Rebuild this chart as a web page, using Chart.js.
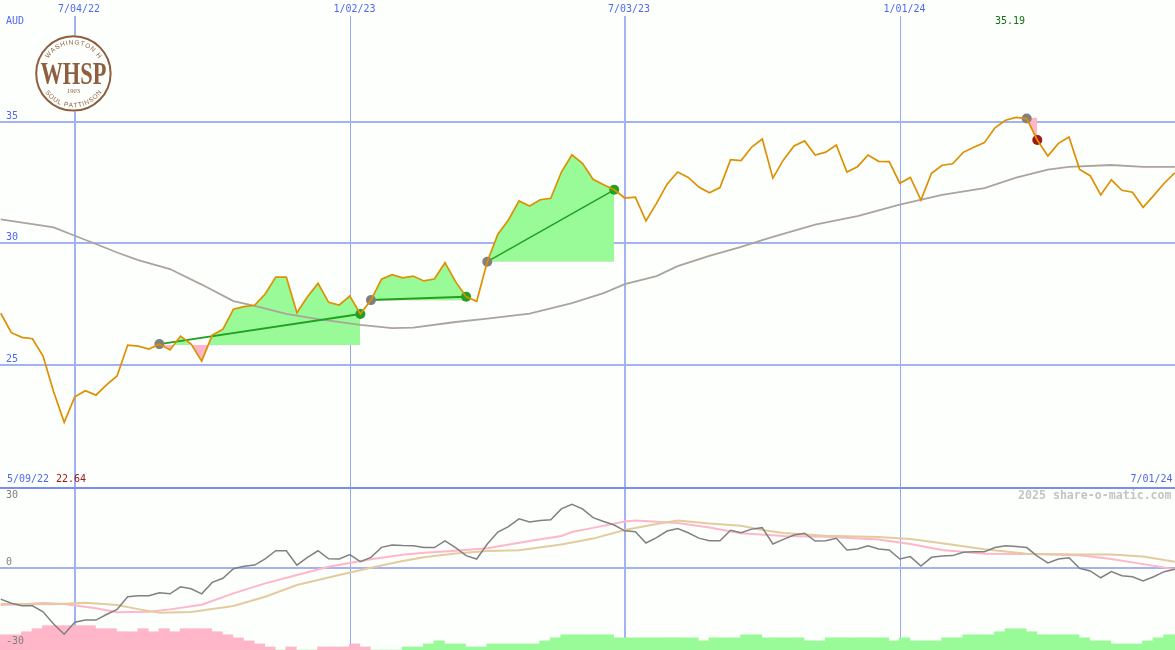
<!DOCTYPE html>
<html>
<head>
<meta charset="utf-8">
<title>WHSP</title>
<script src="https://cdn.jsdelivr.net/npm/chart.js@4/dist/chart.umd.js"></script>
<style>
  html, body { margin: 0; padding: 0; background: #fdfffd; }
  canvas { display: block; }
</style>
</head>
<body>
<canvas id="chartWhsp" width="1175" height="650"></canvas>
<script>
// weekly closes, one value per week
const price = [
    27.13,26.33,26.14,26.08,25.37,23.90,22.64,23.69,23.94,23.76,
    24.18,24.55,25.82,25.78,25.66,25.86,25.62,26.19,25.86,25.16,
    26.23,26.47,27.30,27.40,27.46,27.92,28.62,28.62,27.15,27.81,
    28.36,27.58,27.47,27.84,27.10,27.67,28.53,28.72,28.59,28.66,
    28.46,28.54,29.21,28.43,27.81,27.62,29.25,30.38,30.97,31.75,
    31.54,31.80,31.86,32.93,33.65,33.30,32.64,32.42,32.21,31.87,
    31.91,30.93,31.65,32.44,32.94,32.72,32.32,32.09,32.30,33.45,
    33.41,33.97,34.30,32.69,33.44,34.01,34.22,33.64,33.76,34.05,
    32.94,33.16,33.64,33.38,33.37,32.48,32.72,31.79,32.89,33.22,
    33.28,33.75,33.96,34.15,34.76,35.07,35.19,35.14,34.26,33.60,
    34.12,34.38,33.05,32.79,32.00,32.62,32.19,32.11,31.49,31.97,
    32.48,32.91
];

// long moving average, read at the weeks listed
const maWeeks = [0,3,5,7,9,11,13,16,19,22,24,27,30,34,37,39,43,46,50,54,57,59,62,64,67,70,72,73,77,81,85,89,93,96,99,101,105,108,111];
const maValues = [30.99,30.80,30.66,30.32,29.98,29.63,29.32,28.95,28.31,27.63,27.43,27.10,26.89,26.65,26.52,26.54,26.77,26.91,27.11,27.55,27.96,28.33,28.66,29.07,29.49,29.86,30.14,30.27,30.78,31.13,31.60,32.00,32.28,32.71,33.04,33.15,33.23,33.15,33.15];

// trades: week in, week out, base level of the shaded area
const tradeEntry = [15,35,46,97];
const tradeExit = [34,44,58,98];
const tradeBase = [25.82,27.65,29.25,35.17];
const tradeWon = [true,true,true,false];

// lower panel
const momentum = [
    -12.8,-14.5,-15.5,-15.5,-18.0,-23.0,-27.2,-22.3,-21.4,-21.4,
    -19.1,-17.0,-11.8,-11.4,-11.4,-10.2,-10.6,-7.7,-8.5,-10.6,
    -5.9,-4.2,-0.3,0.7,1.2,3.8,7.1,7.1,1.2,4.4,
    7.1,3.8,3.7,5.5,2.6,4.4,8.5,9.5,9.3,9.2,
    8.4,8.4,11.2,8.4,5.1,3.7,9.9,14.8,17.0,20.2,
    18.9,19.5,19.8,24.3,26.2,24.3,20.7,19.1,17.7,15.3,
    14.9,10.3,12.5,15.2,16.2,14.5,12.3,11.2,11.2,15.5,
    14.5,16.0,16.6,9.9,11.8,13.6,14.3,11.1,11.2,12.2,
    7.4,7.8,9.1,7.8,7.4,3.7,4.7,0.8,4.4,4.9,
    5.1,6.5,6.7,6.7,8.4,9.2,8.8,8.4,4.9,2.1,
    3.7,4.2,-0.1,-1.2,-4.0,-1.5,-3.2,-3.6,-5.3,-3.6,
    -1.5,-0.5
];
const pinkWeeks = [0,2,4,6,9,11,14,16,19,22,25,28,31,35,38,40,43,46,50,53,54,56,59,60,64,67,70,74,78,83,86,89,93,97,102,105,108,111];
const pinkValues = [-15.2,-14.9,-14.4,-14.8,-16.5,-18.2,-18.0,-17.0,-15.1,-10.4,-6.3,-2.9,0.5,3.6,5.5,6.3,7.1,8.1,11.1,13.2,14.8,16.5,19.1,19.5,18.5,16.7,14.3,13.2,12.9,11.7,9.9,7.4,5.9,5.8,5.3,3.7,1.6,-0.5];
const tanWeeks = [0,5,8,11,13,15,18,22,25,28,32,35,38,40,43,46,49,53,56,59,62,64,67,70,72,74,78,83,86,89,93,97,102,105,108,111];
const tanValues = [-14.8,-14.9,-14.3,-15.2,-16.9,-18.4,-18.1,-15.6,-11.8,-7.0,-2.9,0.1,2.9,4.4,6.0,7.0,7.3,9.7,12.1,15.6,18.1,19.5,18.3,17.4,15.6,14.4,13.3,12.8,11.9,10.2,7.7,5.9,5.6,5.6,4.7,2.6];
const histogram = [
    -6.25,-6.25,-7.5,-8.75,-10,-10,-10,-10,-10,-8.75,
    -8.75,-7.5,-7.5,-8.75,-7.5,-8.75,-7.5,-8.75,-8.75,-8.75,
    -7.5,-6.25,-5,-3.75,-2.5,-1.25,0,-1.25,0,0,
    -1.25,-1.25,-1.25,-2.5,-1.25,0,0,0,1.25,1.25,
    2.5,3.75,2.5,2.5,1.25,1.25,2.5,2.5,2.5,2.5,
    2.5,3.75,5,6.25,6.25,6.25,6.25,6.25,5,5,
    5,5,5,5,5,5,3.75,5,5,5,
    6.25,6.25,5,5,5,5,3.75,3.75,5,5,
    5,5,5,5,3.75,5,3.75,3.75,3.75,5,
    5,6.25,6.25,6.25,7.5,8.75,8.75,7.5,6.25,6.25,
    6.25,6.25,5,3.75,3.75,2.5,2.5,2.5,3.75,5,
    6.25,6.25
];

// axes
const xTickWeeks = [7.02,33.07,59.02,85.07];
const xTickLabels = ["7/04/22","1/02/23","7/03/23","1/01/24"];
const xTickWidths = [2,1,2,1];
const mainTicks = [25,30,35];
const lowerTicks = [-30,0,30];
const xMin = -0.07, xMax = 111.02;
const mainMin = 19.94, mainMax = 39.36;
const lowerMin = -33.7, lowerMax = 32.9;

const BLUE_TEXT = "#5068f0";
const GRID = "#a4b2f2";
const MONO = "'DejaVu Sans Mono', monospace";

function puntos(weeks, values) {
    return weeks.map((w, i) => ({ x: w, y: values[i] }));
}

function tramo(desde, hasta) {
    const out = [];
    for (let i = desde; i <= hasta; i++) out.push({ x: i, y: price[i] });
    return out;
}

// the axes sit inside the plot, so no room is kept around them
function sinMargen(s) {
    s.paddingLeft = s.paddingRight = s.paddingTop = s.paddingBottom = 0;
}

function tradeDatasets() {
    const out = [];
    tradeEntry.forEach((entry, t) => {
        const exit = tradeExit[t];
        out.push({
            data: tramo(entry, exit), yAxisID: "y", order: 5,
            borderWidth: 0, pointRadius: 0,
            fill: { target: { value: tradeBase[t] }, above: "#98fb98", below: "#ffb6c8" }
        });
        if (tradeWon[t]) {
            out.push({
                data: [{ x: entry, y: price[entry] }, { x: exit, y: price[exit] }],
                yAxisID: "y", order: 3, borderColor: "#22a022", borderWidth: t == 2 ? 1.5 : 2, pointRadius: 0
            });
        }
        out.push({
            data: [{ x: entry, y: price[entry] }, { x: exit, y: price[exit] }],
            yAxisID: "y", order: 2, showLine: false, pointRadius: 5, pointBorderWidth: 0,
            pointBackgroundColor: ["#808080", tradeWon[t] ? "#22a022" : "#a01818"]
        });
    });
    return out;
}

const logoPlugin = {
    id: "logo",
    afterDraw(chart) {
        const ctx = chart.ctx;
        const cx = 73.4, cy = 73.4;
        const brown = "#8f5e3e";
        ctx.save();
        ctx.beginPath();
        ctx.arc(cx, cy, 38, 0, Math.PI * 2);
        ctx.fillStyle = "#fdfffd";
        ctx.fill();
        ctx.strokeStyle = brown;
        ctx.lineWidth = 2;
        ctx.beginPath();
        ctx.arc(cx, cy, 37.2, 0, Math.PI * 2);
        ctx.stroke();

        ctx.fillStyle = brown;
        ctx.textAlign = "center";
        ctx.textBaseline = "alphabetic";
        ctx.font = "bold 32px 'Liberation Serif'";
        const w = ctx.measureText("WHSP").width;
        ctx.save();
        ctx.translate(cx, 83.5);
        ctx.scale(66 / w, 1);
        ctx.fillText("WHSP", 0, 0);
        ctx.restore();

        ctx.font = "6.5px 'Liberation Serif'";
        ctx.fillText("1903", cx, 93);

        ctx.font = "6.5px 'Liberation Sans'";
        arcoTexto(ctx, "WASHINGTON H", cx, cy, 29, true);
        arcoTexto(ctx, "SOUL PATTINSON", cx, cy, 34, false);
        ctx.restore();
    }
};

function arcoTexto(ctx, texto, cx, cy, r, arriba) {
    const anchos = [...texto].map(c => ctx.measureText(c).width + 0.8);
    const total = anchos.reduce((a, b) => a + b, 0) / r;
    let a = arriba ? -Math.PI / 2 - total / 2 : Math.PI / 2 + total / 2;
    [...texto].forEach((c, i) => {
        const paso = anchos[i] / r;
        a += arriba ? paso / 2 : -paso / 2;
        ctx.save();
        ctx.translate(cx + r * Math.cos(a), cy + r * Math.sin(a));
        ctx.rotate(arriba ? a + Math.PI / 2 : a - Math.PI / 2);
        ctx.fillText(c, 0, 0);
        ctx.restore();
        a += arriba ? paso / 2 : -paso / 2;
    });
}

// the loose texts of the panels
const panelTexts = [
    { text: "AUD", x: 6, y: 21, color: BLUE_TEXT },
    { text: "35.19", x: 995, y: 21, color: "#107010" },
    { text: "5/09/22", x: 7, y: 479, color: BLUE_TEXT },
    { text: "22.64", x: 56, y: 479, color: "#a01818" },
    { text: "7/01/24", x: 1130.5, y: 479, color: BLUE_TEXT }
];

const textPlugin = {
    id: "panelTexts",
    afterDraw(chart) {
        const ctx = chart.ctx;
        ctx.save();
        ctx.textBaseline = "middle";
        ctx.textAlign = "left";
        ctx.font = "10px " + MONO;
        panelTexts.forEach(t => {
            ctx.fillStyle = t.color;
            ctx.fillText(t.text, t.x, t.y);
        });
        ctx.font = "bold 11.6px " + MONO;
        ctx.fillStyle = "#c4c4c4";
        ctx.fillText("2025 share-o-matic.com", 1018, 496);
        ctx.restore();
    }
};

new Chart(document.getElementById("chartWhsp"), {
    type: "line",
    data: {
        datasets: [
            { data: price.map((v, i) => ({ x: i, y: v })), yAxisID: "y", order: 1,
              borderColor: "#dd9000", borderWidth: 1.7, pointRadius: 0, tension: 0 },
            { data: puntos(maWeeks, maValues), yAxisID: "y", order: 4,
              borderColor: "#aaa49c", borderWidth: 1.8, pointRadius: 0, tension: 0 },
            ...tradeDatasets(),
            { data: momentum.map((v, i) => ({ x: i, y: v })), yAxisID: "y2", order: 1,
              borderColor: "#808080", borderWidth: 1.5, pointRadius: 0, tension: 0 },
            { data: puntos(tanWeeks, tanValues), yAxisID: "y2", order: 2,
              borderColor: "#e2cc9e", borderWidth: 2, pointRadius: 0, tension: 0 },
            { data: puntos(pinkWeeks, pinkValues), yAxisID: "y2", order: 3,
              borderColor: "#ffb6c8", borderWidth: 2, pointRadius: 0, tension: 0 },
            { type: "bar", data: histogram.map((v, i) => ({ x: i + 0.45, y: lowerMin + Math.abs(v) })),
              yAxisID: "y2", order: 6, base: lowerMin,
              backgroundColor: histogram.map(v => v < 0 ? "#ffb6c8" : "#98fb98"),
              barPercentage: 1, categoryPercentage: 1, borderWidth: 0 }
        ]
    },
    options: {
        responsive: false,
        animation: false,
        devicePixelRatio: 1,
        layout: { padding: 0, autoPadding: false },
        plugins: { legend: { display: false }, title: { display: false }, tooltip: { enabled: false } },
        scales: {
            x: {
                type: "linear", position: "top", min: xMin, max: xMax, offset: false,
                afterFit: s => { s.height = 16; sinMargen(s); },
                afterBuildTicks: s => { s.ticks = xTickWeeks.map(v => ({ value: v })); },
                border: { display: false },
                grid: {
                    offset: false,
                    drawTicks: false,
                    color: c => xTickWidths[c.index] == 1 ? "#98a8f4" : GRID,
                    lineWidth: c => xTickWidths[c.index] ?? 1
                },
                ticks: {
                    autoSkip: false, maxRotation: 0, minRotation: 0, padding: 1, labelOffset: 4,
                    color: BLUE_TEXT, font: { family: MONO, size: 10 },
                    callback: (v, i) => xTickLabels[i]
                }
            },
            y: {
                position: "left", stack: "panels", stackWeight: 472, weight: 1, min: mainMin, max: mainMax,
                afterFit: s => { s.width = 0; sinMargen(s); },
                afterBuildTicks: s => { s.ticks = mainTicks.map(v => ({ value: v })); },
                border: { display: false },
                grid: { drawTicks: false, color: GRID, lineWidth: 2 },
                ticks: {
                    autoSkip: false, mirror: true, padding: 6, color: BLUE_TEXT, font: { family: MONO, size: 10 },
                    // second empty line lifts the label above its grid line
                    callback: v => [String(v), ""]
                }
            },
            y2: {
                position: "left", stack: "panels", stackWeight: 162, weight: 0, min: lowerMin, max: lowerMax,
                afterFit: s => { s.width = 0; sinMargen(s); },
                afterBuildTicks: s => { s.ticks = [...lowerTicks, lowerMax].map(v => ({ value: v })); },
                border: { display: false },
                grid: {
                    drawTicks: false,
                    lineWidth: 2,
                    color: c => c.tick.value == 0 ? GRID : (c.tick.value == lowerMax ? "#7c8cf0" : "transparent")
                },
                ticks: {
                    autoSkip: false, mirror: true, padding: 6, z: 1, color: "#808080", font: { family: MONO, size: 10 },
                    callback: v => v == lowerMax ? "" : (v == 0 ? ["0", ""] : String(v))
                }
            }
        }
    },
    plugins: [logoPlugin, textPlugin]
});
</script>
</body>
</html>
